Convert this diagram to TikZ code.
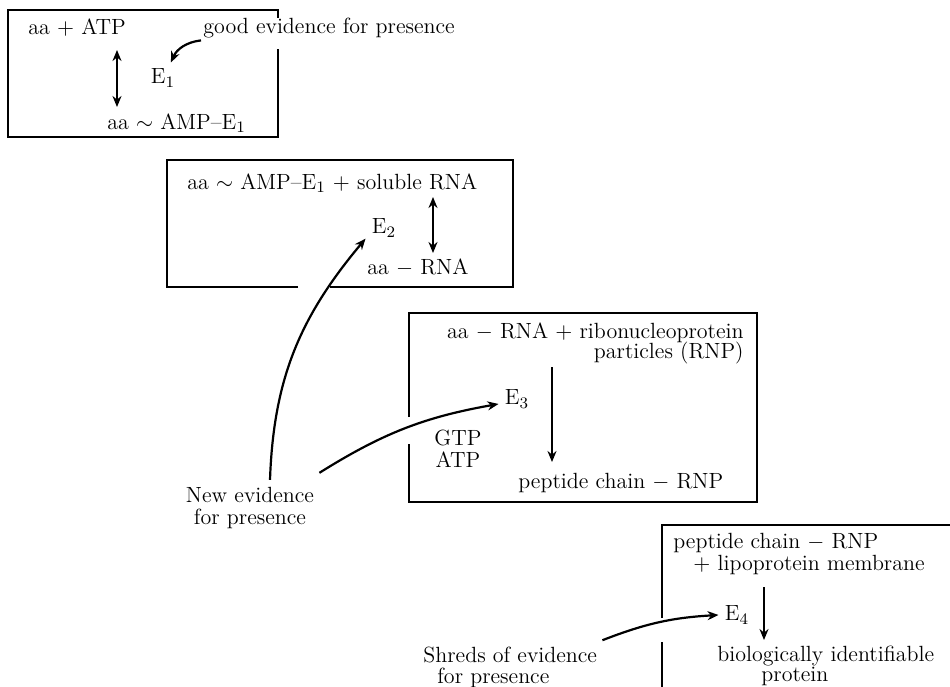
\documentclass[tikz,border=0pt]{standalone}
\usetikzlibrary{arrows.meta}
\begin{document}
\begin{tikzpicture}[x=0.5pt,y=0.5pt]

        \fill[white] (0,0) rectangle (950,-687);
        \clip (0,0) rectangle (950,-687);

        % reaction boxes, broken where a label or an arrow passes
        \begin{scope}[line width=0.8pt]
          \draw (278,-49) -- (278,-137) -- (8,-137) -- (8,-10) -- (278,-10) -- (278,-18);
          \draw (298,-287) -- (167,-287) -- (167,-160) -- (513,-160) -- (513,-287) -- (330,-287);
          \draw (409,-417) -- (409,-313) -- (757,-313) -- (757,-502) -- (409,-502) -- (409,-444);
          \draw (662,-618) -- (662,-525) -- (960,-525);
          \draw (662,-642) -- (662,-700);
        \end{scope}

        \begin{scope}[every node/.style={inner sep=1pt, font=\fontsize{11}{11}\selectfont}]
          \node[anchor=west] (atp)    at (26,-28)   {aa $+$ ATP};
          \node[anchor=west] (good)   at (201,-28)  {good evidence for presence};
          \node[anchor=west] (amp1)   at (105,-123) {aa $\sim$ AMP--E$_1$};
          \node[anchor=west] (amp2)   at (185,-183) {aa $\sim$ AMP--E$_1$ $+$ soluble RNA};
          \node[anchor=west] (rna2)   at (365,-268) {aa $-$ RNA};
          \node[anchor=east, align=right] (ribo) at (746,-343)
            {aa $-$ RNA $+$ ribonucleoprotein\\[-1pt] particles (RNP)};
          \node[align=center] (gtp)   at (458,-449) {GTP\\ATP};
          \node[anchor=west] (pep3)   at (516,-483) {peptide chain $-$ RNP};
          \node[anchor=west, align=left] (pep4) at (671,-554)
            {peptide chain $-$ RNP\\\hspace*{10pt}$+$ lipoprotein membrane};
          \node[anchor=west, align=left] (bio) at (715,-666)
            {biologically identifiable\\[-1pt]\hspace*{22pt}protein};
          \node[align=center] (newev) at (250,-508) {New evidence\\for presence};
          \node[anchor=west, align=left] (shreds) at (421,-667)
            {Shreds of evidence\\[-0.5pt]\hspace*{7pt}for presence};
        \end{scope}

        \begin{scope}[every node/.style={inner sep=3pt, font=\fontsize{11}{11}\selectfont}]
          \node (e1) at (163,-78)  {E$_1$};
          \node (e2) at (384,-228) {E$_2$};
          \node (e3) at (517,-399) {E$_3$};
          \node (e4) at (737,-615) {E$_4$};
        \end{scope}

        \coordinate (u1) at (117,-50);
        \coordinate (d1) at (117,-107);
        \coordinate (u2) at (433,-197);
        \coordinate (d2) at (433,-253);
        \coordinate (u3) at (552,-367);
        \coordinate (d3) at (552,-462);
        \coordinate (u4) at (764,-587);
        \coordinate (d4) at (764,-640);

        \begin{scope}[line width=1.1pt, >={Stealth[length=5.5pt,width=4.5pt]}]
          \begin{scope}[every edge/.style={draw}]
            \path (u1) edge[<->] (d1);
            \path (u2) edge[<->] (d2);
            \path (u3) edge[->] (d3);
            \path (u4) edge[->] (d4);
            \path (good.south west) edge[->, bend right=30] (e1.63);
            \path ([shift={(20,5)}]newev.north) edge[->, out=88, in=230] (e2.210);
            \path ([shift={(3,12)}]newev.north east) edge[->, bend left=11] (e3.195);
            \path ([shift={(3,4)}]shreds.north east) edge[->, bend left=9] (e4.west);
          \end{scope}
        \end{scope}

      \end{tikzpicture}
\end{document}
